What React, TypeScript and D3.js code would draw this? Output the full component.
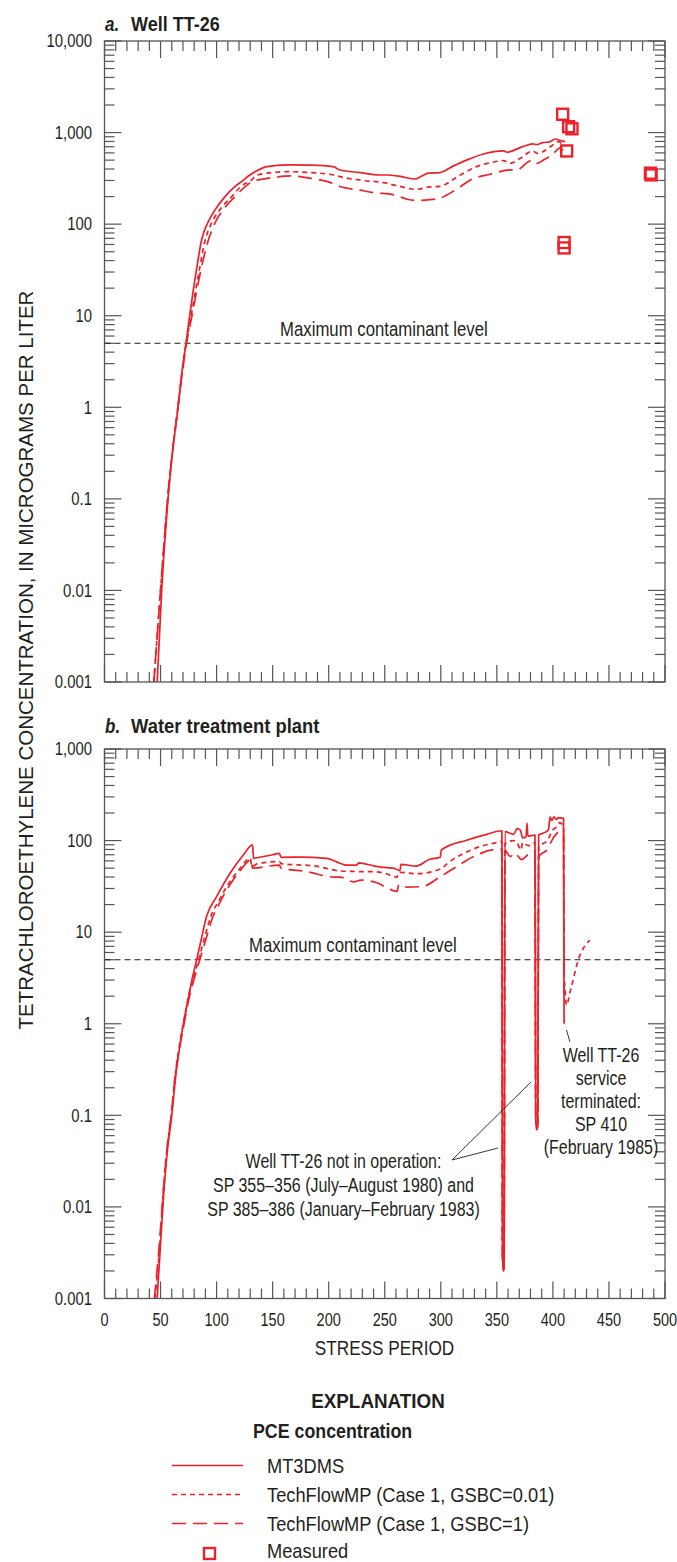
import React from "react";
import * as d3 from "d3";

type Pt = [number, number];

const FONT = "'Liberation Sans', Arial, sans-serif";
const RED = "#ed2129";
const INK = "#231f20";
const AXIS = "#555555";

// Maximum contaminant level for PCE, micrograms per liter
const MCL = 5;

// Stress-period axis
const xTickValues = d3.range(0, 501, 50);
const xMinorValues = d3.range(0, 501, 10);

// Decade labels of the two concentration axes
const topDecades = [0.001, 0.01, 0.1, 1, 10, 100, 1000, 10000];
const botDecades = [0.001, 0.01, 0.1, 1, 10, 100, 1000];

// a. Well TT-26 — simulated PCE concentration [stress period, ug/L]
const topMt3dms: Pt[] = [
  [47, 0.001], [51, 0.01], [56.7, 0.1], [61, 0.35], [65.6, 1], [69, 2.4], [72.7, 5], [76, 10],
  [82, 31.6], [86.7, 68], [92, 103], [98.6, 143], [107.5, 200], [116, 255], [124, 302], [129, 340],
  [134, 371], [145, 425], [163, 443], [185, 440], [204, 425], [210, 390], [228, 365], [245, 344],
  [252, 344], [265, 330], [277, 311], [283, 335], [289, 360], [299, 365], [311, 430], [323, 500],
  [338, 584], [356, 630], [359, 610], [373, 702], [382, 751], [386, 740], [391, 777], [397, 790],
  [402, 851], [405, 830], [411, 795],
];
const topShort: Pt[] = [
  [44, 0.001], [50, 0.01], [56.3, 0.1], [65.5, 1], [72.8, 5], [77.3, 10], [84.6, 31.6], [89.5, 65],
  [95.6, 103], [104, 150], [113.5, 200], [122, 260], [131, 302], [136, 344], [150, 365], [163, 374],
  [185, 365], [204, 344], [210, 330], [230, 300], [249, 284], [260, 265], [278, 240], [290, 255],
  [299, 258], [315, 330], [332, 425], [345, 470], [356, 493], [362, 462], [371, 525], [382, 630],
  [386, 594], [391, 617], [396, 680], [400, 733], [405, 795], [410, 702],
];
const topLong: Pt[] = [
  [44, 0.001], [50, 0.01], [56.3, 0.1], [65.5, 1], [73.2, 5], [78, 10], [86, 31.6], [92, 63],
  [98.6, 103], [107, 150], [116.5, 200], [126, 260], [134, 300], [136, 303], [150, 322], [166, 336],
  [185, 315], [201, 286], [210, 258], [228, 235], [240, 221], [258, 209], [270, 187], [278.5, 181],
  [290, 185], [299, 192], [314, 240], [326, 302], [344, 351], [363, 391], [368, 391], [378, 479],
  [382, 500], [386, 462], [392, 505], [397, 546], [402, 617], [406, 680], [409, 640],
];
// Measured PCE at well TT-26
const measuredSP = [408.7, 414, 417, 412.3, 410, 410, 487, 487.6];
const measuredPCE = [1585, 1160, 1100, 630, 63, 55, 360, 345];

// b. Water treatment plant — simulated PCE concentration [stress period, ug/L]
const botMt3dms: Pt[] = [
  [47, 0.001], [50, 0.004], [53, 0.015], [56, 0.04], [60, 0.1], [64, 0.3], [67, 0.55], [71, 1.1],
  [74.8, 1.9], [78.5, 3.2], [82.2, 5], [86, 8], [91, 14.8], [100, 24.4], [112, 44], [124, 70],
  [132, 89.6], [133, 64], [136, 65], [150, 70], [156, 72.6], [157.5, 65.7], [175, 66], [198, 64],
  [210, 56.5], [216, 54], [225, 54], [227, 57], [240, 53], [252, 50.6], [258, 50], [263.5, 47],
  [264.5, 55], [278, 52.5], [290, 62.5], [299.5, 65.7], [300.5, 79], [323, 101], [341, 117],
  [354.5, 128], [355, 0.003], [356, 0.002], [356.5, 0.0025], [357.2, 125], [365, 117], [368, 135],
  [371, 130], [373, 107], [376, 110], [377, 155], [377.6, 112], [384, 115], [384.7, 0.09],
  [385.7, 0.07], [386.5, 0.08], [387.3, 115], [391, 120], [396, 131], [397.5, 182], [399, 165],
  [401, 182], [403, 170], [405, 178], [409.5, 175], [410, 1.0],
];
const botShort: Pt[] = [
  [45, 0.001], [49.5, 0.004], [52.5, 0.015], [55.5, 0.04], [59.5, 0.1], [63.5, 0.3], [67, 0.6],
  [71, 1.1], [75, 2], [79.5, 3.3], [84, 5], [89, 8.5], [95, 15], [102, 22], [109, 31.4], [120, 48],
  [130, 64], [131.5, 52], [136, 55.6], [156, 59], [157.5, 56], [189, 52.5], [210, 46.6], [222, 46],
  [240, 45.7], [250, 44], [261, 40], [262.5, 45], [278, 43.5], [299, 48.6], [308, 59], [320, 72],
  [335, 86], [353, 97], [354.5, 98], [355, 0.003], [356, 0.002], [356.5, 0.0025], [357.2, 92],
  [365, 100], [368, 95], [371.6, 79], [373, 95], [378, 88], [384, 95], [384.7, 0.09], [385.7, 0.07],
  [386.5, 0.08], [387.3, 86], [395, 100], [400, 131], [403, 140], [406, 157], [409.5, 140],
  [410, 3.5], [411, 2.2], [412, 1.6], [416, 2.4], [422.7, 5], [433, 8.2],
];
const botLong: Pt[] = [
  [44.5, 0.001], [49, 0.004], [52.5, 0.015], [55.5, 0.04], [59.5, 0.1], [63.5, 0.3], [67, 0.55],
  [71, 1.0], [75, 1.8], [80, 3.1], [85, 5], [90, 8], [96, 14], [102, 20], [109, 29], [120, 45],
  [131, 62], [132, 50], [156, 54], [157.5, 50], [180, 46], [205, 40], [210, 40], [222, 35.5],
  [229, 37], [243, 34.6], [250, 31.4], [261, 27.9], [262.5, 33], [270, 31], [284, 31.6], [299, 40],
  [314, 52], [329, 66.7], [350, 80], [354.5, 80], [355, 0.003], [356, 0.002], [356.5, 0.0025],
  [357.2, 78], [362, 67], [366, 73], [372, 62], [378, 70], [384, 72], [384.7, 0.09], [385.7, 0.07],
  [386.5, 0.08], [387.3, 67], [395, 80], [400, 105], [406, 125], [409.5, 120], [410, 2.5],
  [411, 1.8],
];

const SERIES_STYLES = [
  { name: "MT3DMS", dash: undefined as string | undefined },
  { name: "TechFlowMP (Case 1, GSBC=0.01)", dash: "5,4" },
  { name: "TechFlowMP (Case 1, GSBC=1)", dash: "14,7" },
];

const x = d3.scaleLinear().domain([0, 500]).range([104.5, 665]);
const yTop = d3.scaleLog().domain([0.001, 10000]).range([682, 41]);
const yBot = d3.scaleLog().domain([0.001, 1000]).range([1298.5, 749]);

function fmtDecade(v: number) {
  return v >= 1 ? d3.format(",")(v) : String(v);
}

function logTicks(decades: number[]) {
  const out: { v: number; major: boolean }[] = [];
  decades.forEach((d, i) => {
    out.push({ v: d, major: true });
    if (i < decades.length - 1) for (let k = 2; k <= 9; k++) out.push({ v: d * k, major: false });
  });
  return out;
}

// Condensed-looking text: a horizontally compressed sans serif
type NTextProps = {
  x: number;
  y: number;
  size: number;
  sx?: number;
  anchor?: "start" | "middle" | "end";
  bold?: boolean;
  italic?: boolean;
  children: React.ReactNode;
};
function NText({ x, y, size, sx = 0.85, anchor = "start", bold, italic, children }: NTextProps) {
  return (
    <text
      transform={`translate(${x},${y}) scale(${sx},1)`}
      textAnchor={anchor}
      fontFamily={FONT}
      fontSize={size}
      fontWeight={bold ? "bold" : undefined}
      fontStyle={italic ? "italic" : undefined}
      fill={INK}
    >
      {children}
    </text>
  );
}

type PanelProps = {
  y: d3.ScaleLogarithmic<number, number>;
  decades: number[];
  lines: Pt[][];
  letter: string;
  title: string;
  titleY: number;
  titleSx: number;
  mclX: number;
  showXLabels: boolean;
  measured?: { sp: number[]; v: number[] };
};

function Panel({ y, decades, lines, letter, title, titleY, titleSx, mclX, showXLabels, measured }: PanelProps) {
  const [x0, x1] = x.range();
  const [yb, yt] = y.range();
  const line = d3
    .line<Pt>()
    .x((d) => x(d[0]))
    .y((d) => y(d[1]))
    .curve(d3.curveMonotoneX);
  const ticks = logTicks(decades);
  return (
    <g>
      <NText x={105} y={titleY} size={20} sx={0.85} bold italic>
        {letter}
      </NText>
      <NText x={131} y={titleY} size={20} sx={titleSx} bold>
        {title}
      </NText>

      {/* stress-period ticks, top and bottom, pointing inward */}
      {xMinorValues.map((v) => {
        const len = v % 50 === 0 ? 17 : 10;
        return (
          <g key={"x" + v} stroke={AXIS} strokeWidth={1.2}>
            <line x1={x(v)} x2={x(v)} y1={yt} y2={yt + len} />
            <line x1={x(v)} x2={x(v)} y1={yb} y2={yb - len} />
          </g>
        );
      })}
      {/* concentration ticks, left and right */}
      {ticks.map((t, i) => {
        const len = t.major ? 17 : 10;
        return (
          <g key={"y" + i} stroke={AXIS} strokeWidth={1.2}>
            <line x1={x0} x2={x0 + len} y1={y(t.v)} y2={y(t.v)} />
            <line x1={x1} x2={x1 - len} y1={y(t.v)} y2={y(t.v)} />
          </g>
        );
      })}
      {decades.map((d) => (
        <NText key={"yl" + d} x={92} y={y(d) + 6.3} size={17.5} sx={0.85} anchor="end">
          {fmtDecade(d)}
        </NText>
      ))}
      {showXLabels &&
        xTickValues.map((v) => (
          <NText key={"xl" + v} x={x(v)} y={yb + 27.5} size={17.5} sx={0.83} anchor="middle">
            {v}
          </NText>
        ))}

      {/* maximum contaminant level */}
      <line x1={x0} x2={x1} y1={y(MCL)} y2={y(MCL)} stroke={INK} strokeWidth={1} strokeDasharray="6,4" />
      <NText x={mclX} y={y(MCL) - 7.5} size={19.5} sx={0.86}>
        Maximum contaminant level
      </NText>

      {lines.map((pts, i) => (
        <path
          key={"s" + i}
          d={line(pts) || ""}
          fill="none"
          stroke={RED}
          strokeWidth={1.7}
          strokeDasharray={SERIES_STYLES[i].dash}
          strokeLinejoin="round"
        />
      ))}

      {measured &&
        measured.sp.map((sp, i) => (
          <rect
            key={"m" + i}
            x={x(sp) - 5.5}
            y={y(measured.v[i]) - 5.5}
            width={11}
            height={11}
            fill="none"
            stroke={RED}
            strokeWidth={2.4}
          />
        ))}

      <rect x={x0} y={yt} width={x1 - x0} height={yb - yt} fill="none" stroke={AXIS} strokeWidth={1.3} />
    </g>
  );
}

export default function App() {
  const legendRows = [1473, 1502, 1531];
  return (
    <svg
      width={677}
      height={1562}
      viewBox="0 0 677 1562"
      style={{ position: "absolute", left: 0, top: 0, background: "#fff" }}
    >
      <rect width={677} height={1562} fill="#fff" />
      <Panel
        y={yTop}
        decades={topDecades}
        lines={[topMt3dms, topShort, topLong]}
        letter="a."
        title="Well TT-26"
        titleY={30.5}
        titleSx={0.9}
        mclX={280}
        showXLabels={false}
        measured={{ sp: measuredSP, v: measuredPCE }}
      />
      <Panel
        y={yBot}
        decades={botDecades}
        lines={[botMt3dms, botShort, botLong]}
        letter="b."
        title="Water treatment plant"
        titleY={733}
        titleSx={0.92}
        mclX={249}
        showXLabels={true}
      />

      <text
        transform="translate(33,660) rotate(-90)"
        textAnchor="middle"
        fontFamily={FONT}
        fontSize={20.5}
        fill={INK}
      >
        TETRACHLOROETHYLENE CONCENTRATION, IN MICROGRAMS PER LITER
      </text>
      <NText x={384.5} y={1355} size={20} sx={0.86} anchor="middle">
        STRESS PERIOD
      </NText>

      {/* annotations */}
      <NText x={343.5} y={1168} size={19.5} sx={0.82} anchor="middle">Well TT-26 not in operation:</NText>
      <NText x={343.5} y={1192} size={19.5} sx={0.82} anchor="middle">SP 355–356 (July–August 1980) and</NText>
      <NText x={343.5} y={1216} size={19.5} sx={0.82} anchor="middle">SP 385–386 (January–February 1983)</NText>
      <NText x={601} y={1062} size={19.5} sx={0.82} anchor="middle">Well TT-26</NText>
      <NText x={601} y={1085} size={19.5} sx={0.82} anchor="middle">service</NText>
      <NText x={601} y={1108} size={19.5} sx={0.82} anchor="middle">terminated:</NText>
      <NText x={601} y={1131} size={19.5} sx={0.82} anchor="middle">SP 410</NText>
      <NText x={601} y={1154} size={19.5} sx={0.82} anchor="middle">(February 1985)</NText>
      <g stroke={INK} strokeWidth={0.9}>
        <line x1={452} y1={1160} x2={531} y2={1082} />
        <line x1={452} y1={1160} x2={498} y2={1148} />
        <line x1={566.5} y1={1030} x2={570} y2={1042} />
      </g>

      {/* explanation */}
      <NText x={378} y={1408} size={20.5} sx={0.92} anchor="middle" bold>
        EXPLANATION
      </NText>
      <NText x={253} y={1438} size={20} sx={0.89} bold>
        PCE concentration
      </NText>
      {SERIES_STYLES.map((s, i) => (
        <g key={"lg" + i}>
          <line
            x1={172}
            x2={243}
            y1={legendRows[i] - 7.5}
            y2={legendRows[i] - 7.5}
            stroke={RED}
            strokeWidth={1.7}
            strokeDasharray={s.dash}
          />
          <NText x={267} y={legendRows[i]} size={21} sx={0.87}>
            {s.name}
          </NText>
        </g>
      ))}
      <rect x={204} y={1548} width={11} height={11} fill="none" stroke={RED} strokeWidth={2.4} />
      <NText x={267} y={1558} size={21} sx={0.87}>
        Measured
      </NText>
    </svg>
  );
}
